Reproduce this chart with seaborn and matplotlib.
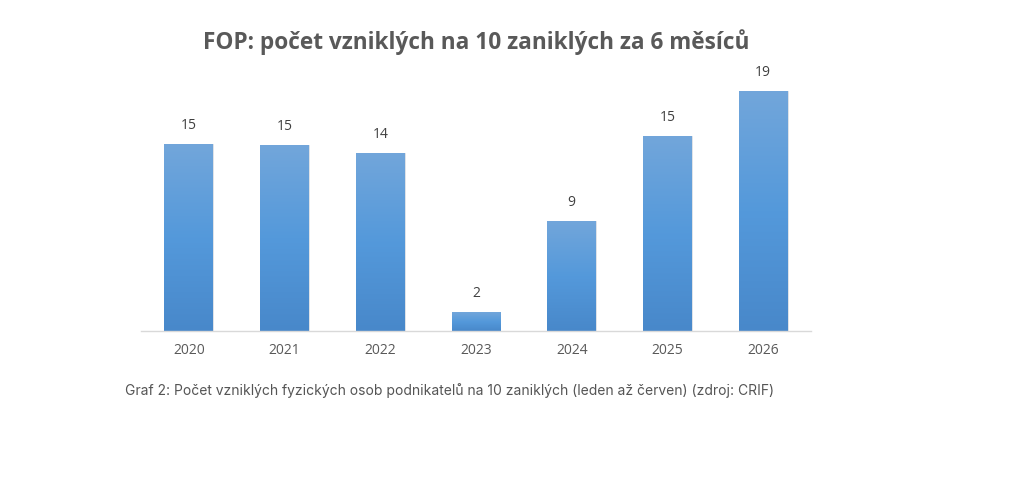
import numpy as np
import matplotlib.pyplot as plt
import matplotlib.colors as mcolors
import pandas as pd
import seaborn as sns

# data
years = ["2020", "2021", "2022", "2023", "2024", "2025", "2026"]
ratio = [14.8, 14.7, 14.1, 1.5, 8.7, 15.4, 19.0]
labels = [15, 15, 14, 2, 9, 15, 19]

title = "FOP: počet vzniklých na 10 zaniklých za 6 měsíců"
caption = ("Graf 2: Počet vzniklých fyzických osob podnikatelů na 10 zaniklých "
           "(leden až červen) (zdroj: CRIF)")

df = pd.DataFrame({"rok": years, "pocet": ratio})

sns.set_style("white")
plt.rcParams["font.family"] = ["Open Sans", "DejaVu Sans"]

W, H = 1024, 483
fig = plt.figure(figsize=(W / 100, H / 100), dpi=100)
fig.patch.set_facecolor("white")

# plot area in pixels: baseline y=331, x from 141 to 811
ymax = 21.0
px_per_unit = 12.63
left, right = 141, 811
bottom_px = 331
top_px = bottom_px - ymax * px_per_unit
ax = fig.add_axes([left / W, (H - bottom_px) / H, (right - left) / W,
                   (bottom_px - top_px) / H])

sns.barplot(data=df, x="rok", y="pocet", color="#5B9BD5", width=0.51,
            saturation=1, ax=ax)
ax.set_ylim(0, ymax)
ax.set_xlim(-0.5, len(years) - 0.5)

# vertical gradient on bars
cmap = mcolors.LinearSegmentedColormap.from_list(
    "bar", ["#4888CA", "#5499DB", "#72A6DA"])
grad = np.linspace(0, 1, 256).reshape(-1, 1)
for bar in ax.patches:
    x0, y0 = bar.get_x(), bar.get_y()
    w, h = bar.get_width(), bar.get_height()
    bar.set_facecolor("none")
    bar.set_edgecolor("#d8dde3")
    bar.set_linewidth(0.6)
    im = ax.imshow(grad, cmap=cmap, aspect="auto", origin="lower",
                   extent=[x0, x0 + w, y0, y0 + h], zorder=bar.get_zorder())
    im.set_clip_path(bar)

for i, lab in enumerate(labels):
    ax.annotate(str(lab), xy=(i, ratio[i]), xytext=(0, 8),
                textcoords="offset points", ha="center", va="bottom",
                fontsize=10, color="#404040")

ax.set_xlabel("")
ax.set_ylabel("")
ax.set_yticks([])
ax.tick_params(axis="x", length=0, pad=9, labelsize=10, labelcolor="#595959")
for s in ["top", "right", "left"]:
    ax.spines[s].set_visible(False)
ax.spines["bottom"].set_color("#d9d9d9")
ax.spines["bottom"].set_linewidth(1.0)

fig.text(476 / W, 1 - 42 / H, title, ha="center", va="center",
         fontsize=16.3, fontweight="bold", color="#595959")

fig.text(125 / W, 1 - 391 / H, caption, ha="left", va="center",
         fontsize=10, color="#555555", family=["Inter", "DejaVu Sans"])

fig.savefig("out.png", dpi=100, facecolor="white")
